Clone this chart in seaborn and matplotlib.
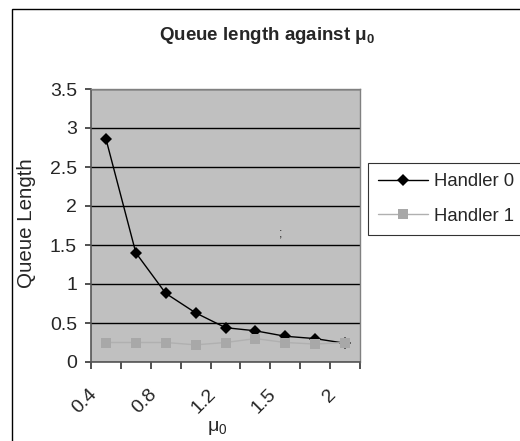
import matplotlib
matplotlib.use("Agg")
import matplotlib.pyplot as plt
import seaborn as sns
import pandas as pd
from matplotlib.patches import Rectangle

# ---- data ----
mu0_labels = ["0.4", "", "0.8", "", "1.2", "", "1.5", "", "2"]
handler0 = [2.86, 1.40, 0.88, 0.63, 0.44, 0.40, 0.33, 0.30, 0.24]
handler1 = [0.25, 0.25, 0.25, 0.22, 0.25, 0.30, 0.25, 0.23, 0.25]
y_ticks = [0, 0.5, 1, 1.5, 2, 2.5, 3, 3.5]
y_tick_labels = ["0", "0.5", "1", "1.5", "2", "2.5", "3", "3.5"]
series_names = ["Handler 0", "Handler 1"]

sns.set_theme(style="white")
plt.rcParams["font.family"] = ["Liberation Sans", "DejaVu Sans"]
plt.rcParams["mathtext.fontset"] = "custom"
plt.rcParams["mathtext.rm"] = "Liberation Sans"
plt.rcParams["mathtext.it"] = "Liberation Sans"
plt.rcParams["mathtext.bf"] = "Liberation Sans:bold"
plt.rcParams["xtick.bottom"] = True
plt.rcParams["ytick.left"] = True
plt.rcParams["xtick.major.size"] = 5
plt.rcParams["ytick.major.size"] = 4

rows = []
for name, vals in zip(series_names, [handler0, handler1]):
    for i, v in enumerate(vals):
        rows.append({"pos": i, "Queue Length": v, "Handler": name})
df = pd.DataFrame(rows)

fig = plt.figure(figsize=(5.2, 4.41), dpi=100)
fig.patch.set_facecolor("white")
# outer chart frame
fig.add_artist(Rectangle((12 / 520, -0.1), 1.2, (441 - 9) / 441 + 0.1,
                         transform=fig.transFigure, fill=False,
                         edgecolor="black", linewidth=1.0))

ax = fig.add_axes([91 / 520, (441 - 362) / 441, (360 - 91) / 520, (362 - 89) / 441])
ax.set_facecolor("#c0c0c0")

sns.lineplot(data=df, x="pos", y="Queue Length", hue="Handler", style="Handler",
             palette={"Handler 0": "#000000", "Handler 1": "#a8a8a8"},
             markers={"Handler 0": "D", "Handler 1": "s"}, dashes=False,
             markeredgewidth=0, linewidth=1.0, ax=ax, legend=False)
lines = ax.get_lines()
lines[0].set_markersize(6.2)
lines[1].set_markersize(7.2)
lines[1].set_color("#b0b0b0")
lines[1].set_markerfacecolor("#a8a8a8")

ax.set_xlim(-0.5, len(mu0_labels) - 0.5)
ax.set_ylim(0, 3.5)
ax.set_yticks(y_ticks)
ax.set_yticklabels(y_tick_labels)
ax.yaxis.grid(True, color="black", linewidth=1.0)
ax.set_axisbelow(True)

# category ticks between categories; labels (Excel-style rotated) slightly left
ax.set_xticks([i - 0.5 for i in range(len(mu0_labels) + 1)])
ax.set_xticklabels([])
ax.set_xticks([i - 0.4 for i in range(len(mu0_labels))], minor=True)
ax.set_xticklabels(mu0_labels, minor=True, rotation=45, ha="right", va="center",
                   rotation_mode="anchor", fontsize=14)
ax.tick_params(axis="x", which="major", direction="out", length=5, width=1.1,
               color="#222222", bottom=True)
ax.tick_params(axis="x", which="minor", length=0, pad=21.5)
ax.tick_params(axis="y", direction="out", length=4, width=1.1, color="#222222",
               left=True, labelsize=14, pad=6)

for s in ["left", "bottom"]:
    ax.spines[s].set_color("#555555")
    ax.spines[s].set_linewidth(1.2)
for s in ["top", "right"]:
    ax.spines[s].set_color("#808080")
    ax.spines[s].set_linewidth(1.0)

ax.set_xlabel(r"$\mathregular{\mu_0}$", fontsize=14)
ax.xaxis.set_label_coords((217 - 91) / 269, (362 - 419) / 273)
ax.set_ylabel("Queue Length", fontsize=14.8)
ax.yaxis.set_label_coords((36 - 91) / 269, (362 - 223) / 273)

fig.text(267 / 520, 1 - 36 / 441, r"Queue length against $\mathbf{\mu_0}$",
         ha="center", va="center", fontsize=13.5, fontweight="bold")

# stray mark
fig.text(281 / 520, 1 - 233 / 441, ";", ha="center", va="center", fontsize=9)

leg = fig.legend(lines[:2], series_names, loc="upper left",
                 bbox_to_anchor=(368 / 520, 1 - 163 / 441), borderaxespad=0,
                 fancybox=False, frameon=True, edgecolor="black", fontsize=13.3,
                 handlelength=2.7, labelspacing=0.95, borderpad=0.55,
                 handletextpad=0.3)
leg.get_frame().set_linewidth(0.8)

fig.savefig("out.png", dpi=100)
